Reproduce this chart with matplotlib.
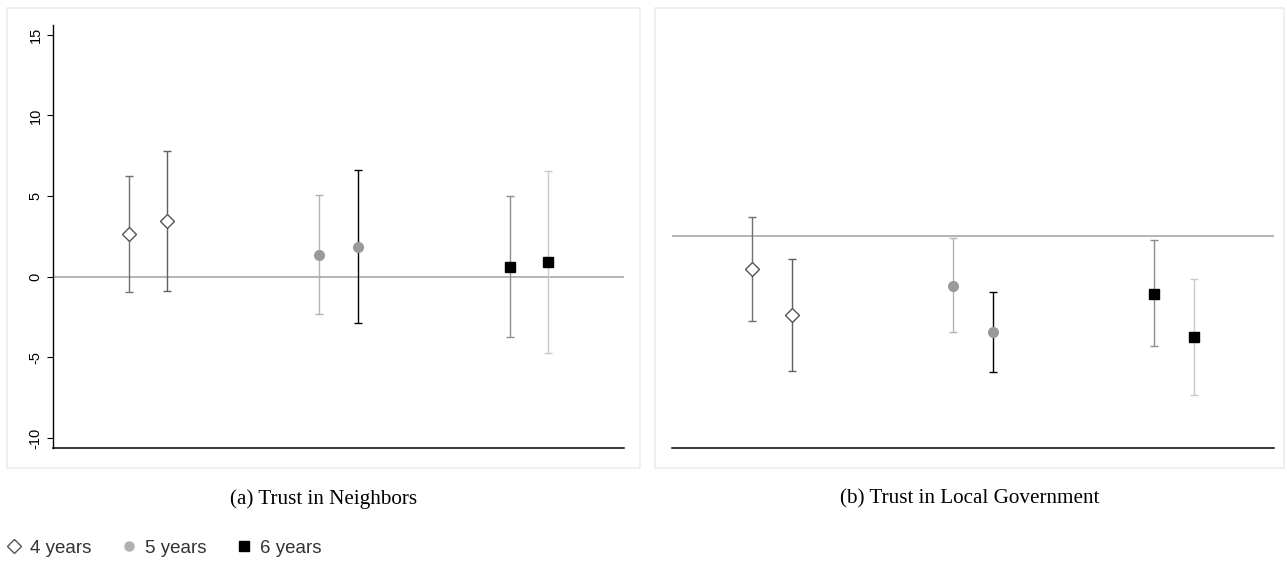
import numpy as np
import matplotlib
matplotlib.use('Agg')
import matplotlib.pyplot as plt
from matplotlib.lines import Line2D
from matplotlib.patches import Rectangle

# data (estimates with 95% CI), two specifications per group
groups = ['4 years', '5 years', '6 years']
neighbors_est = [2.62, 3.47, 1.34, 1.86, 0.62, 0.91]
neighbors_lo = [-0.93, -0.87, -2.33, -2.89, -3.76, -4.71]
neighbors_hi = [6.22, 7.81, 5.08, 6.63, 5.00, 6.55]

localgov_est = [-2.05, -4.90, -3.06, -5.95, -3.57, -6.24]
localgov_lo = [-5.27, -8.39, -5.97, -8.43, -6.82, -9.83]
localgov_hi = [1.18, -1.40, -0.14, -3.47, -0.25, -2.64]

yticks_left = [-10, -5, 0, 5, 10, 15]

# styles
bar_colors = ['#707070', '#606060', '#b4b4b4', '#000000', '#8e8e8e', '#cacaca']
markers = ['D', 'D', 'o', 'o', 's', 's']
face = ['white', 'white', '#9a9a9a', '#9a9a9a', 'black', 'black']
edge = ['#555555', '#555555', '#9a9a9a', '#9a9a9a', 'black', 'black']
msize = [7, 7, 7, 7, 7.5, 7.5]

W, H = 1287, 569
fig = plt.figure(figsize=(W / 100, H / 100), dpi=100, facecolor='white')


def px(x0, y0, x1, y1):
    return [x0 / W, 1 - y1 / H, (x1 - x0) / W, (y1 - y0) / H]


# panel frames
for x0, x1 in [(7, 640), (655, 1284)]:
    fig.patches.append(Rectangle((x0 / W, 1 - 468 / H), (x1 - x0) / W, 460 / H,
                                 transform=fig.transFigure, facecolor='none',
                                 edgecolor='#ececec', linewidth=1.2, zorder=-1))


def draw_panel(ax, est, lo, hi, ylim, show_y):
    x = []
    for g in range(len(groups)):
        x += [g - 0.1, g + 0.1]
    ax.axhline(0, color='#a0a0a0', linewidth=1.1, zorder=1)
    for i in range(len(est)):
        ax.errorbar(x[i], est[i], yerr=[[est[i] - lo[i]], [hi[i] - est[i]]],
                    fmt='none', ecolor=bar_colors[i], elinewidth=1.0,
                    capsize=2.7, capthick=1.0, zorder=2)
        ax.plot(x[i], est[i], marker=markers[i], markersize=msize[i],
                markerfacecolor=face[i], markeredgecolor=edge[i],
                markeredgewidth=1.0, linestyle='none', zorder=3)
    ax.set_xlim(-0.5, 2.5)
    ax.set_ylim(*ylim)
    ax.set_xticks([])
    ax.spines['top'].set_visible(False)
    ax.spines['right'].set_visible(False)
    ax.spines['bottom'].set_color('black')
    ax.spines['bottom'].set_linewidth(1.1)
    if show_y:
        ax.spines['left'].set_color('black')
        ax.spines['left'].set_linewidth(1.0)
        ax.set_yticks(yticks_left)
        ax.set_yticklabels([str(v) for v in yticks_left], rotation=90,
                           va='center', fontsize=10.5, family='Liberation Sans')
        ax.tick_params(axis='y', length=4.5, width=0.8, pad=3)
    else:
        ax.spines['left'].set_visible(False)
        ax.set_yticks([])
    ax.patch.set_alpha(0)


ax1 = fig.add_axes(px(53, 25, 624, 448))
draw_panel(ax1, neighbors_est, neighbors_lo, neighbors_hi, (-10.62, 15.6), True)

ax2 = fig.add_axes(px(672, 25, 1274, 448))
draw_panel(ax2, localgov_est, localgov_lo, localgov_hi, (-13.14, 13.1), False)

# captions
fig.text(324 / W, 1 - 499 / H, '(a) Trust in Neighbors', ha='center', va='center',
         fontsize=15.2, family='Liberation Serif', color='black')
fig.text(970 / W, 1 - 499 / H, '(b) Trust in Local Government', ha='center', va='center',
         fontsize=15.2, family='Liberation Serif', color='black')

# legend
handles = [
    Line2D([], [], marker='D', linestyle='none', markersize=7.5,
           markerfacecolor='white', markeredgecolor='#555555', markeredgewidth=1.0),
    Line2D([], [], marker='o', linestyle='none', markersize=6.5,
           markerfacecolor='#b0b0b0', markeredgecolor='#b0b0b0'),
    Line2D([], [], marker='s', linestyle='none', markersize=7,
           markerfacecolor='black', markeredgecolor='black'),
]
leg = fig.legend(handles, groups, loc='center left', bbox_to_anchor=(0.0, 1 - 548 / H),
                 ncol=3, frameon=False, handletextpad=0.35, columnspacing=1.5,
                 handlelength=1.0, borderaxespad=0, borderpad=0.25,
                 prop={'family': 'Liberation Sans', 'size': 13.5})
for t in leg.get_texts():
    t.set_color('#333333')

plt.savefig('out.png', dpi=100, facecolor='white')
plt.close()
